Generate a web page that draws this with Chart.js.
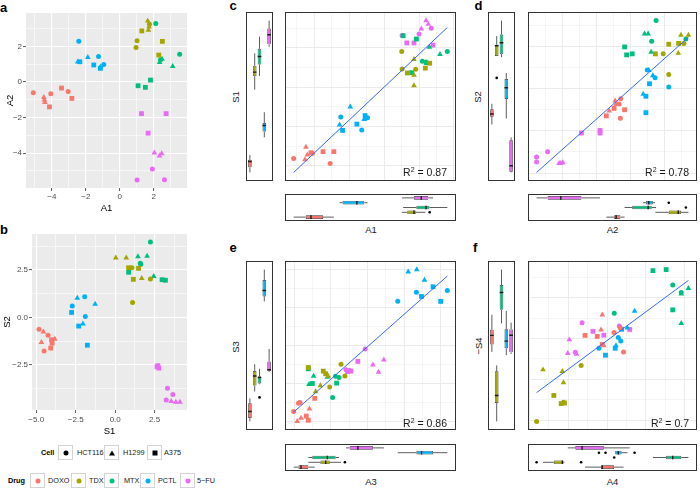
<!DOCTYPE html>
<html><head><meta charset="utf-8">
<script src="https://cdn.jsdelivr.net/npm/chart.js@4.4.0/dist/chart.umd.min.js"></script>
<style>
html,body{margin:0;padding:0;background:#fff}
#root{position:relative;width:700px;height:493px;overflow:hidden;font-family:"Liberation Sans",Arial,Helvetica,sans-serif}
.frame{position:absolute;border:1px solid #333;box-sizing:border-box;background:#fff}
.frame canvas,.bare canvas{display:block}
.bare{position:absolute}
.plab{position:absolute;font-weight:bold;font-size:13px;line-height:13px;color:#000}
.atl{position:absolute;font-size:9.5px;line-height:10px;color:#1a1a1a;white-space:nowrap;transform:translate(-50%,-50%)}
.atl.rot{transform:translate(-50%,-50%) rotate(-90deg)}
.r2{position:absolute;font-size:10.5px;line-height:10.5px;color:#1a1a1a;white-space:nowrap}
.r2 sup{font-size:7px;line-height:0;vertical-align:4px}
.leg{position:absolute;font-size:7.3px;line-height:8px;color:#1a1a1a;white-space:nowrap}
.legt{font-weight:bold;color:#000}
.key{position:absolute;width:15px;height:15px;box-sizing:border-box;border:1px solid #d4d4d4;background:#fff}
.key i{position:absolute;left:50%;top:50%;transform:translate(-50%,-50%);display:block}
</style></head>
<body><div id="root">
<div class="plab" style="left:0px;top:1px">a</div>
<div class="plab" style="left:0px;top:223px">b</div>
<div class="plab" style="left:229.5px;top:-1px">c</div>
<div class="plab" style="left:474.5px;top:-1px">d</div>
<div class="plab" style="left:229.5px;top:241px">e</div>
<div class="plab" style="left:473px;top:241px">f</div>
<div class="atl rot" style="left:236px;top:97px">S1</div>
<div class="atl" style="left:371px;top:230px">A1</div>
<div class="atl rot" style="left:478px;top:97px">S2</div>
<div class="atl" style="left:612.5px;top:230px">A2</div>
<div class="atl rot" style="left:235.5px;top:346.5px">S3</div>
<div class="atl" style="left:371px;top:481.5px">A3</div>
<div class="atl rot" style="left:478.5px;top:345.5px">&minus;S4</div>
<div class="atl" style="left:612.5px;top:481.5px">A4</div>
</div>
<script>
// ---------- categories ----------
const drugNames = ['DOXO', 'TDX', 'MTX', 'PCTL', '5\u2212FU'];
const cellNames = ['HCT116', 'H1299', 'A375'];
// per-point membership (same order in every panel)
const drugOfPoint = [0,0,0,0,0,0,0,0,0, 1,1,1,1,1,1,1,1,1, 2,2,2,2,2,2,2,2,2, 3,3,3,3,3,3,3,3,3, 4,4,4,4,4,4,4,4,4];
const cellOfPoint = [0,0,0,1,1,1,2,2,2, 0,0,0,1,1,1,2,2,2, 0,0,0,1,1,1,2,2,2, 0,0,0,1,1,1,2,2,2, 0,0,0,1,1,1,2,2,2];

// ---------- panel a : A1 vs A2 ----------
const aA1 = [-5.09,-4.06,-3.04, -4.47,-4.44,-4.41, -3.43,-2.82,-4.14,
             1.02,0.96,1.75, 1.65,1.73,1.69, 1.30,2.51,2.30,
             2.12,3.53,2.40, 2.49,2.35,3.12, 1.81,1.08,1.51,
             -2.41,-1.25,-0.94, -1.88,-2.47,-1.14, -2.35,-1.53,-1.14,
             1.92,1.02,2.63, 2.04,2.34,2.47, 1.28,2.73,1.67];
const aA2 = [-0.60,-0.66,-0.54, -0.86,-1.00,-1.14, -0.34,-0.92,-1.40,
             2.32,1.95,3.25, 3.44,3.11,2.92, 2.88,2.29,1.52,
             3.30,1.56,1.25, 1.29,1.11,0.88, 0.11,-0.21,-0.30,
             2.30,1.44,0.99, 1.39,1.14,0.86, 1.14,0.96,0.77,
             -4.90,-5.52,-5.50, -3.99,-4.16,-4.03, -1.78,-1.78,-2.88];
// ---------- panel b : S1 vs S2 ----------
const bS1 = [-4.82,-4.25,-4.50, -4.55,-4.67,-3.82, -4.03,-3.99,-4.08,
             1.06,2.23,1.10, 0.04,0.70,1.68, 0.85,1.48,1.15,
             2.23,1.59,1.62, 1.44,2.02,2.44, 0.85,2.97,3.18,
             -1.93,-2.72,-1.89, -2.40,-1.27,-2.04, -2.76,-2.31,-1.76,
             3.31,3.65,3.23, 3.55,3.84,4.10, 2.65,2.76,2.70];
const bS2 = [-0.63,-0.95,-1.78, -0.76,-1.32,-1.15, -1.18,-1.36,-1.62,
             2.62,2.03,0.79, 3.14,3.14,2.06, 2.62,2.59,2.01,
             3.98,2.86,2.80, 3.21,3.24,2.17, 2.38,1.99,1.96,
             1.09,0.60,0.05, 1.02,0.70,-0.34, 0.26,-0.46,-1.47,
             -3.74,-4.08,-4.36, -4.43,-4.47,-4.47, -2.61,-2.68,-2.55];
// ---------- panel c : A1 vs S1 ----------
const cA1 = [-5.18,-3.09,-4.10, -4.48,-4.53,-4.40, -4.19,-3.50,-2.88,
             1.01,1.03,1.81, 1.71,1.71,1.71, 1.33,2.61,2.36,
             3.62,2.19,2.40, 2.59,3.20,2.44, 1.09,1.85,1.58,
             -2.48,-1.28,-0.95, -1.94,-2.55,-1.14, -2.38,-1.56,-1.09,
             2.70,2.00,1.03, 2.40,2.53,2.13, 1.30,1.71,2.80];
const cS1 = [-4.54,-4.85,-4.20, -3.81,-4.60,-4.30, -4.17,-4.10,-4.10,
             2.27,1.15,1.13, 1.77,0.77,0.10, 0.90,1.52,1.21,
             2.27,1.65,1.60, 2.54,2.08,1.52, 3.27,3.06,0.92,
             -1.90,-2.73,-1.94, -1.25,-2.40,-2.04, -2.75,-2.35,-1.81,
             3.75,3.38,3.29, 4.23,4.00,3.71, 2.81,2.81,2.67];
const cFitX = [-5.18, 3.62];
const cFitY = [-5.42, 3.79];
// ---------- panel d : A2 vs S2 ----------
const dA2 = [-0.58,-0.68,-0.60, -0.91,-1.26,-0.85, -0.97,-1.43,-0.35,
             1.93,2.26,3.15, 2.98,3.42,2.82, 2.26,2.84,1.47,
             1.51,3.27,1.25, 0.83,1.04,1.22, -0.35,-0.23,0.10,
             0.99,2.26,1.45, 1.32,0.75,1.08, 1.12,0.91,0.91,
             -5.55,-5.55,-4.90, -4.22,-4.00,-4.12, -2.90,-1.80,-1.80];
const dS2 = [-0.60,-0.91,-1.75, -0.72,-1.32,-0.93, -1.17,-1.61,-1.25,
             2.06,0.84,2.68, 3.17,3.17,2.10, 2.63,2.68,2.06,
             4.03,2.94,2.80, 3.25,3.25,2.16, 2.47,2.00,2.06,
             1.11,0.10,0.64, 0.78,-0.33,1.08, 0.29,-0.45,-1.42,
             -4.05,-4.34,-3.74, -4.42,-4.38,-4.42, -2.63,-2.47,-2.63];
const dFitX = [-5.55, 3.42];
const dFitY = [-4.96, 3.04];
// ---------- panel e : A3 vs S3 ----------
const eA3 = [-4.04,-3.78,-3.69, -3.18,-3.85,-3.64, -2.89,-3.35,-3.24,
             -1.45,-1.24,-2.07, -2.15,-2.58,-2.84, -3.24,-2.42,-2.29,
             -1.56,-1.91,-1.75, -2.95,-3.20,-2.20, -3.24,-3.02,-1.69,
             2.67,4.36,1.65, 2.22,2.69,3.11, 2.95,3.58,4.00,
             -0.13,-1.18,-0.98, 0.89,0.29,0.60, -0.53,-0.91,-1.09];
const eS3 = [-3.45,-3.02,-2.98, -3.31,-3.97,-3.79, -2.76,-3.69,-3.91,
             -0.97,-1.59,-2.16, -1.59,-2.09,-2.40, -1.14,-1.33,-1.47,
             -1.67,-2.71,-1.60, -1.59,-2.02,-1.64, -1.21,-1.98,-1.96,
             2.81,2.90,2.34, 3.88,4.00,3.45, 2.59,3.10,2.33,
             -0.17,-1.26,-1.30, -0.74,-1.00,-1.38, -0.82,-1.33,-1.36];
const eFitX = [-4.04, 4.36];
const eFitY = [-3.48, 3.66];
// ---------- panel f : A4 vs -S4 ----------
const fA4 = [0.36,0.85,0.68, -0.25,-0.31,-0.17, -1.14,-0.51,-0.25,
             -1.34,-3.64,-2.25, -3.31,-2.31,-2.25, -2.75,-2.37,-2.20,
             3.39,0.37,3.83, 3.83,4.20,3.83, 2.37,3.05,3.39,
             0.58,0.71,-0.42, 1.42,1.05,0.46, 0.75,0.42,-0.08,
             -1.29,0.63,-1.64, -1.95,-2.03,-1.58, -0.73,-0.17,1.17];
const fNegS4 = [0.29,-0.66,0.52, 1.16,0.42,-0.35, 0.15,0.10,-0.29,
             -1.32,-4.06,-3.12, -1.53,-1.61,-2.16, -2.79,-3.19,-3.16,
             2.61,1.23,2.25, 2.18,2.45,0.74, 3.32,3.37,1.40,
             0.05,-0.13,-0.48, 1.34,0.52,-0.35, 0.45,-0.48,-0.82,
             0.77,0.61,-0.68, -0.06,-0.73,-0.76, 0.35,0.16,0.44];
const fFitX = [-3.64, 4.20];
const fFitY = [-2.65, 2.84];
const r2Values = ['0.87', '0.78', '0.86', '0.7'];

// ---------- styles ----------
const drugColors = ['#F8766D', '#A3A500', '#00BF7D', '#00B0F6', '#E76BF3'];
const cellShapes = ['circle', 'triangle', 'rect'];
const shapeRadius = [2.5, 3.3, 3.4];
const FONT = '"Liberation Sans", Arial, Helvetica, sans-serif';
Chart.defaults.font.family = FONT;

const root = document.getElementById('root');
const isMult = (v, s) => Math.abs(v / s - Math.round(v / s)) < 1e-6;
function padRange(vals) {
  const mn = Math.min(...vals), mx = Math.max(...vals), p = (mx - mn) * 0.05;
  return [mn - p, mx + p];
}
function quantile(s, p) {
  const h = (s.length - 1) * p, lo = Math.floor(h);
  const hi = Math.min(lo + 1, s.length - 1);
  return s[lo] + (h - lo) * (s[hi] - s[lo]);
}
function boxStats(vals) {
  const s = [...vals].sort((a, b) => a - b);
  const q1 = quantile(s, 0.25), med = quantile(s, 0.5), q3 = quantile(s, 0.75);
  const iqr = q3 - q1, lo = q1 - 1.5 * iqr, hi = q3 + 1.5 * iqr;
  const inside = s.filter(v => v >= lo && v <= hi);
  return {q1, med, q3, wlo: inside[0], whi: inside[inside.length - 1], out: s.filter(v => v < lo || v > hi)};
}
function makeCanvas(b, framed) {
  const div = document.createElement('div');
  div.className = framed ? 'frame' : 'bare';
  Object.assign(div.style, {left: b.l + 'px', top: b.t + 'px', width: b.w + 'px', height: b.h + 'px'});
  const cv = document.createElement('canvas');
  const iw = framed ? b.w - 2 : b.w, ih = framed ? b.h - 2 : b.h;
  cv.width = iw; cv.height = ih; cv.style.width = iw + 'px'; cv.style.height = ih + 'px';
  div.appendChild(cv); root.appendChild(div);
  return cv;
}
function baseOpts(extra) {
  return Object.assign({
    responsive: false, animation: false, devicePixelRatio: 1, events: [],
    layout: {padding: 0, autoPadding: false},
    plugins: {legend: {display: false}, tooltip: {enabled: false}}
  }, extra);
}
const panelBg = {
  id: 'panelBg',
  beforeDraw(chart, args, opts) {
    if (!opts || !opts.color) return;
    const {ctx, chartArea: a} = chart;
    ctx.save(); ctx.fillStyle = opts.color;
    ctx.fillRect(a.left, a.top, a.right - a.left, a.bottom - a.top);
    ctx.restore();
  }
};
function pointDatasets(xs, ys) {
  const out = [];
  for (let d = 0; d < drugNames.length; d++) for (let c = 0; c < cellNames.length; c++) {
    const pts = [];
    xs.forEach((x, i) => { if (drugOfPoint[i] === d && cellOfPoint[i] === c) pts.push({x, y: ys[i]}); });
    out.push({type: 'scatter', data: pts, pointStyle: cellShapes[c], pointRadius: shapeRadius[c],
      pointBackgroundColor: drugColors[d], pointBorderWidth: 0, borderWidth: 0, showLine: false});
  }
  return out;
}
// ticks at every multiple of `step` inside the scale range
function stepTicks(step) {
  return s => {
    const out = [];
    const first = Math.ceil(s.min / step - 1e-9);
    const last = Math.floor(s.max / step + 1e-9);
    for (let k = first; k <= last; k++) out.push({value: +(k * step).toFixed(6)});
    s.ticks = out;
  };
}
function gridAxis(range, step, majorEvery, color, majW, minW) {
  return {
    type: 'linear', min: range[0], max: range[1], offset: false,
    afterBuildTicks: stepTicks(step),
    ticks: {display: false, stepSize: step, maxTicksLimit: 200, includeBounds: false},
    grid: {drawTicks: false, color,
      lineWidth: c => (c.tick && isMult(c.tick.value, step * majorEvery)) ? majW : minW},
    border: {display: false}
  };
}
function labelAxis(range, step, majorEvery, fmt, pos, size, title, titlePad, tickPad) {
  const ax = gridAxis(range, step, majorEvery, '#FFFFFF', 1.1, 0.55);
  ax.position = pos;
  ax.afterFit = s => { if (pos === 'left') s.width = size; else s.height = size; };
  ax.ticks = {display: true, stepSize: step, maxTicksLimit: 200, includeBounds: false, autoSkip: false, maxRotation: 0,
    color: '#4D4D4D', font: {family: FONT, size: 8}, padding: tickPad,
    callback: v => isMult(v, step * majorEvery) ? fmt(v) : ''};
  ax.grid.drawTicks = true;
  ax.grid.tickLength = 3;
  ax.grid.tickWidth = 0.8;
  ax.grid.tickColor = c => (c.tick && isMult(c.tick.value, step * majorEvery)) ? '#333333' : 'rgba(0,0,0,0)';
  ax.title = {display: true, text: title, color: '#000', font: {family: FONT, size: 9.5}, padding: titlePad};
  return ax;
}
const fmtInt = v => (v < -1e-9 ? '\u2212' : '') + Math.abs(Math.round(v));
const fmt1 = v => (v < -1e-9 ? '\u2212' : '') + Math.abs(v).toFixed(1);

function axisPanel(box, pad, yW, xH, xs, ys, step, major, fmt, xT, yT, xTP, yTP, xPad, yPad) {
  const cv = makeCanvas(box, false);
  new Chart(cv, {
    type: 'scatter',
    data: {datasets: pointDatasets(xs, ys)},
    options: baseOpts({
      layout: {padding: pad, autoPadding: false},
      plugins: {legend: {display: false}, tooltip: {enabled: false}, panelBg: {color: '#EBEBEB'}},
      scales: {
        x: labelAxis(padRange(xs), step, major, fmt, 'bottom', xH, xT, {top: 0, bottom: xTP}, xPad),
        y: labelAxis(padRange(ys), step, major, fmt, 'left', yW, yT, {top: yTP, bottom: 0}, yPad)
      }
    }),
    plugins: [panelBg]
  });
}
function mainPanel(box, xs, ys, fitX, fitY, xStep, yStep) {
  const cv = makeCanvas(box, true);
  const fit = {type: 'line', data: fitX.map((x, i) => ({x, y: fitY[i]})), borderColor: '#3366FF',
    borderWidth: 1, pointRadius: 0, fill: false, order: -1};
  new Chart(cv, {
    type: 'scatter',
    data: {datasets: [fit, ...pointDatasets(xs, ys)]},
    options: baseOpts({
      scales: {
        x: gridAxis(padRange(xs.concat(fitX)), xStep, 2, '#EBEBEB', 1, 0.5),
        y: gridAxis(padRange(ys.concat(fitY)), yStep, 2, '#EBEBEB', 1, 0.5)
      }
    })
  });
}
function marginPanel(box, vals, horizontal) {
  const cv = makeCanvas(box, true);
  const rng = padRange(vals);
  const stats = drugNames.map((_, d) => boxStats(vals.filter((v, i) => drugOfPoint[i] === d)));
  const hw = 0.375;
  const P = (v, k) => horizontal ? {x: v, y: k} : {x: k, y: v};
  const gap = {x: null, y: null};
  const whisk = [], meds = [], outs = [];
  stats.forEach((s, d) => {
    whisk.push(P(s.wlo, d), P(s.q1, d), gap, P(s.q3, d), P(s.whi, d), gap);
    meds.push(P(s.med, d - hw), P(s.med, d + hw), gap);
    s.out.forEach(v => outs.push(P(v, d)));
  });
  const boxes = {
    type: 'bar', indexAxis: horizontal ? 'y' : 'x',
    data: stats.map((s, d) => horizontal ? {y: d, x: [s.q1, s.q3]} : {x: d, y: [s.q1, s.q3]}),
    backgroundColor: drugColors, borderColor: '#333333', borderWidth: 0.7, borderSkipped: false,
    barPercentage: 0.75, categoryPercentage: 1, order: 0
  };
  const lineDs = (data, w, col, order) => ({type: 'line', data, borderColor: col, borderWidth: w,
    pointRadius: 0, spanGaps: false, fill: false, order});
  const idxRange = [-0.6, drugNames.length - 0.4];
  const valAxis = {type: 'linear', display: false, min: rng[0], max: rng[1], offset: false, grid: {offset: false}};
  const idxAxis = {type: 'linear', display: false, min: idxRange[0], max: idxRange[1], offset: false, grid: {offset: false}};
  new Chart(cv, {
    type: 'bar',
    data: {datasets: [
      lineDs(whisk, 0.8, '#333333', 1),
      boxes,
      lineDs(meds, 1.4, '#1a1a1a', -2),
      {type: 'scatter', data: outs, pointRadius: 1.3, pointBackgroundColor: '#000', pointBorderWidth: 0, order: -3}
    ]},
    options: baseOpts({
      scales: horizontal ? {x: valAxis, y: idxAxis} : {x: idxAxis, y: valAxis}
    })
  });
}

// ---------- panels a, b ----------
axisPanel({l: 0, t: 0, w: 190, h: 222}, {top: 13, right: 3, left: 0, bottom: 0}, 26, 34,
  aA1, aA2, 1, 2, fmtInt, 'A1', 'A2', 8.3, 4.3, 1, 1);
axisPanel({l: 0, t: 222, w: 190, h: 218}, {top: 12, right: 3, left: 0, bottom: 0}, 32, 30,
  bS1, bS2, 1.25, 2, fmt1, 'S1', 'S2', 2.8, 1.3, 2, 1);

// ---------- panels c-f ----------
const panels = [
  {xs: cA1, ys: cS1, fx: cFitX, fy: cFitY, xs_: 1, ys_: 1.25, L: 285, W: 171, T: 12, ml: 246, bt: 194},
  {xs: dA2, ys: dS2, fx: dFitX, fy: dFitY, xs_: 1, ys_: 1.25, L: 528, W: 169, T: 12, ml: 488, bt: 194},
  {xs: eA3, ys: eS3, fx: eFitX, fy: eFitY, xs_: 1, ys_: 1, L: 285, W: 171, T: 261, ml: 246, bt: 444},
  {xs: fA4, ys: fNegS4, fx: fFitX, fy: fFitY, xs_: 1, ys_: 1, L: 528, W: 169, T: 261, ml: 488, bt: 444}
];
const r2Pos = [{r: 253, t: 167}, {r: 11, t: 167}, {r: 253, t: 418}, {r: 11, t: 418}];
panels.forEach((p, k) => {
  mainPanel({l: p.L, t: p.T, w: p.W, h: 169}, p.xs, p.ys, p.fx, p.fy, p.xs_, p.ys_);
  marginPanel({l: p.ml, t: p.T, w: 27, h: 169}, p.ys, false);
  marginPanel({l: p.L, t: p.bt, w: p.W, h: 27}, p.xs, true);
  const r = document.createElement('div');
  r.className = 'r2';
  r.style.right = r2Pos[k].r + 'px'; r.style.top = r2Pos[k].t + 'px';
  r.innerHTML = 'R<sup>2</sup> = ' + r2Values[k];
  root.appendChild(r);
});

// ---------- legends ----------
function addText(txt, x, y, bold) {
  const s = document.createElement('div');
  s.className = 'leg' + (bold ? ' legt' : '');
  s.style.left = x + 'px'; s.style.top = y + 'px';
  s.textContent = txt; root.appendChild(s);
}
function addKey(x, y, sym) {
  const k = document.createElement('div');
  k.className = 'key'; k.style.left = x + 'px'; k.style.top = y + 'px';
  k.appendChild(sym); root.appendChild(k);
}
function sym(shape, color) {
  const i = document.createElement('i');
  if (shape === 'triangle') {
    Object.assign(i.style, {width: '0', height: '0', borderLeft: '3px solid transparent',
      borderRight: '3px solid transparent', borderBottom: '5px solid ' + color});
  } else {
    Object.assign(i.style, {width: '5px', height: '5px', background: color,
      borderRadius: shape === 'circle' ? '50%' : '0'});
  }
  return i;
}
const cellKeyX = [58, 104, 147], cellTextX = [77, 123, 164];
const drugKeyX = [30, 71, 104, 140, 180], drugTextX = [48, 89, 124, 158, 197];
addText('Cell', 41, 449, true);
cellNames.forEach((n, i) => { addKey(cellKeyX[i], 445, sym(cellShapes[i], '#000')); addText(n, cellTextX[i], 449); });
addText('Drug', 8, 477, true);
drugNames.forEach((n, i) => { addKey(drugKeyX[i], 473, sym('circle', drugColors[i])); addText(n, drugTextX[i], 477); });
</script>
</body></html>
